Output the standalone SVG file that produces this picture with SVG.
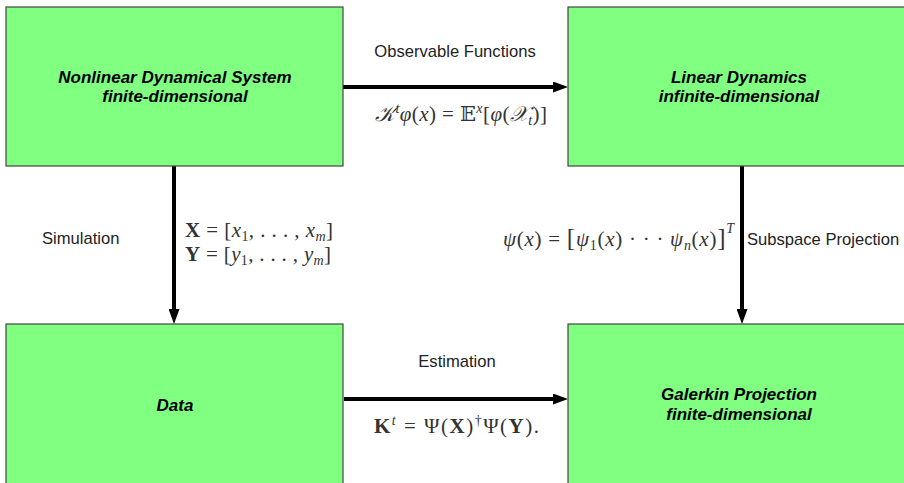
<svg xmlns="http://www.w3.org/2000/svg" width="904" height="483" viewBox="0 0 904 483">
<defs>
<style>
.box{fill:#80ff80;stroke:#444;stroke-width:1.2}
.title{font-family:"Liberation Sans",Arial,sans-serif;font-weight:bold;font-style:italic;font-size:17px;fill:#000;text-anchor:middle}
.lbl{font-family:"Liberation Sans",Arial,sans-serif;font-size:16.6px;fill:#222}
.math{font-family:"Liberation Serif","DejaVu Serif",serif;font-size:21px;fill:#333}
.it{font-style:italic}
.bf{font-weight:bold}
.edge{stroke:#000;stroke-width:4;fill:none}
</style>
<marker id="ah" markerUnits="userSpaceOnUse" markerWidth="15" markerHeight="11" refX="0" refY="5.5" orient="auto">
<path d="M0,0 L15,5.5 L0,11 z" fill="#000"/>
</marker>
</defs>
<rect width="904" height="483" fill="#fff"/>
<g id="connectors">
<line class="edge" x1="343" y1="87" x2="553" y2="87" marker-end="url(#ah)"/>
<line class="edge" x1="344" y1="399" x2="553" y2="399" marker-end="url(#ah)"/>
<line class="edge" x1="174" y1="166" x2="174" y2="309" marker-end="url(#ah)"/>
<line class="edge" x1="742" y1="166" x2="742" y2="309" marker-end="url(#ah)"/>
</g>
<g id="n1">
<rect class="box" x="6" y="7" width="337" height="159"/>
<text class="title" x="175" y="83">Nonlinear Dynamical System</text>
<text class="title" x="175" y="102">finite-dimensional</text>
</g>
<g id="n2">
<rect class="box" x="568" y="7" width="345" height="159"/>
<text class="title" x="739" y="83">Linear Dynamics</text>
<text class="title" x="739" y="102">infinite-dimensional</text>
</g>
<g id="n3">
<rect class="box" x="6" y="324" width="337" height="170"/>
<text class="title" x="175" y="411">Data</text>
</g>
<g id="n4">
<rect class="box" x="568" y="324" width="345" height="170"/>
<text class="title" x="739" y="400">Galerkin Projection</text>
<text class="title" x="739" y="420">finite-dimensional</text>
</g>
<g id="labels">
<text class="lbl" x="455" y="57" text-anchor="middle">Observable Functions</text>
<text class="math" x="375" y="121" textLength="172" lengthAdjust="spacing"><tspan class="it">𝒦</tspan><tspan class="it" font-size="14" dy="-8">t</tspan><tspan class="it" dy="8">φ</tspan>(<tspan class="it">x</tspan>) = 𝔼<tspan class="it" font-size="14" dy="-8">x</tspan><tspan dy="8">[</tspan><tspan class="it">φ</tspan>(<tspan class="it">𝒳</tspan><tspan class="it" font-size="14" dy="4">t</tspan><tspan dy="-4">)]</tspan></text>
<text class="lbl" x="42" y="244">Simulation</text>
<text class="math" x="185" y="237" textLength="148" lengthAdjust="spacing"><tspan class="bf">X</tspan> = [<tspan class="it">x</tspan><tspan font-size="14" dy="4">1</tspan><tspan dy="-4">, . . . , </tspan><tspan class="it">x</tspan><tspan class="it" font-size="14" dy="4">m</tspan><tspan dy="-4">]</tspan></text>
<text class="math" x="185" y="261" textLength="146" lengthAdjust="spacing"><tspan class="bf">Y</tspan> = [<tspan class="it">y</tspan><tspan font-size="14" dy="4">1</tspan><tspan dy="-4">, . . . , </tspan><tspan class="it">y</tspan><tspan class="it" font-size="14" dy="4">m</tspan><tspan dy="-4">]</tspan></text>
<text class="math" x="503" y="246" textLength="231" lengthAdjust="spacing"><tspan class="it">ψ</tspan>(<tspan class="it">x</tspan>) = <tspan font-size="25">[</tspan><tspan class="it">ψ</tspan><tspan font-size="14" dy="4">1</tspan><tspan dy="-4">(</tspan><tspan class="it">x</tspan>) · · · <tspan class="it">ψ</tspan><tspan class="it" font-size="14" dy="4">n</tspan><tspan dy="-4">(</tspan><tspan class="it">x</tspan>)<tspan font-size="25">]</tspan><tspan class="it" font-size="14" dy="-13">T</tspan></text>
<text class="lbl" x="747" y="245">Subspace Projection</text>
<text class="lbl" x="457" y="367" text-anchor="middle">Estimation</text>
<text class="math" x="374" y="433" textLength="165" lengthAdjust="spacing"><tspan class="bf">K</tspan><tspan class="it" font-size="14" dy="-8">t</tspan><tspan dy="8"> = Ψ(</tspan><tspan class="bf">X</tspan>)<tspan font-size="14" dy="-8">†</tspan><tspan dy="8">Ψ(</tspan><tspan class="bf">Y</tspan>).</text>
</g>
</svg>
